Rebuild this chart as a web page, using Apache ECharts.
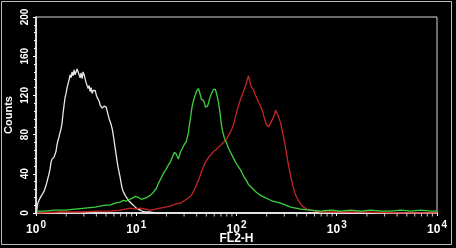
<!DOCTYPE html>
<html>
<head>
<meta charset="utf-8">
<script src="https://cdn.jsdelivr.net/npm/echarts@6/dist/echarts.min.js"></script>
<style>
html,body{margin:0;padding:0;background:#000;}
#chart{width:456px;height:248px;}
</style>
</head>
<body>
<div id="chart"></div>
<script>
// Each trace: [log10(FL2-H), counts]
const whiteTrace = [[0.005,0],[0.015,9],[0.02,10],[0.03,13],[0.04,12],[0.05,17],[0.06,19],[0.08,22],
[0.10,28],[0.11,32],[0.12,36],[0.13,40],[0.14,45],[0.15,52],[0.16,55],[0.17,54],[0.18,57],[0.19,58],
[0.20,63],[0.21,70],[0.22,74],[0.23,78],[0.24,82],[0.25,86],[0.26,92],[0.27,102],[0.28,110],[0.29,118],
[0.30,122],[0.31,128],[0.32,132],[0.33,136],[0.34,141],[0.35,138],[0.36,144],[0.37,140],[0.38,146],[0.39,141],
[0.40,143],[0.41,147],[0.42,148],[0.43,141],[0.44,138],[0.45,143],[0.46,137],[0.47,144],[0.48,141],[0.49,143],
[0.50,133],[0.51,130],[0.52,127],[0.53,130],[0.54,124],[0.55,128],[0.56,122],[0.57,125],[0.58,124],[0.59,125],
[0.60,121],[0.61,118],[0.62,120],[0.63,114],[0.64,110],[0.65,108],[0.66,107],[0.67,106],[0.68,109],[0.69,110],
[0.70,108],[0.71,104],[0.72,100],[0.73,96],[0.74,96],[0.75,90],[0.76,86],[0.77,80],[0.78,73],[0.79,66],
[0.80,59],[0.81,52],[0.82,46],[0.83,41],[0.84,36],[0.85,30],[0.86,25],[0.87,22],[0.88,20],[0.89,18],[0.90,16],
[0.92,13],[0.94,11],[0.96,9],[0.98,7],[1.00,5],[1.02,4],[1.04,3],[1.06,2],
[1.09,1],[1.14,1],[1.20,0],[1.40,0],[1.70,0],[2.0,0],[4.0,0]];

const greenTrace = [[0.01,2],[0.09,2],[0.19,3],[0.29,3],[0.39,4],[0.49,5],[0.59,6],[0.64,7],[0.69,8],[0.74,8],
[0.79,10],[0.84,11],[0.87,13],[0.90,12],[0.93,14],[0.96,15],[0.99,17],[1.02,16],[1.05,14],[1.08,15],[1.11,16],
[1.14,18],[1.17,21],[1.20,25],[1.22,30],[1.24,34],[1.26,38],[1.28,42],[1.30,45],[1.32,49],[1.34,52],[1.36,57],
[1.38,62],[1.40,60],[1.42,55],[1.44,62],[1.46,66],[1.48,70],[1.50,73],[1.52,82],[1.53,90],[1.54,96],[1.55,104],
[1.56,110],[1.57,114],[1.58,118],[1.59,121],[1.60,124],[1.61,126],[1.62,127],[1.63,124],[1.64,120],[1.65,116],
[1.66,117],[1.67,115],[1.68,112],[1.69,108],[1.70,106],[1.71,109],[1.72,112],[1.73,116],[1.74,119],[1.75,122],
[1.76,124],[1.77,126],[1.78,127],[1.79,126],[1.80,124],[1.81,118],[1.82,113],[1.83,106],[1.84,98],[1.85,90],
[1.86,84],[1.87,80],[1.88,76],[1.90,72],[1.92,66],[1.94,62],[1.96,58],[1.98,54],[2.00,50],[2.02,47],[2.04,44],
[2.06,40],[2.08,36],[2.10,33],[2.12,29],[2.14,27],[2.17,24],[2.20,21],[2.24,18],[2.28,16],[2.32,14],[2.36,12],
[2.40,11],[2.44,10],[2.49,8],[2.54,6],[2.59,5],[2.64,4],[2.74,3],[2.84,2],[2.94,3],[3.04,2],[3.14,3],[3.24,2],
[3.34,3],[3.44,2],[3.54,2],[3.64,3],[3.74,2],[3.84,3],[3.94,2],[4.0,2]];

const redTrace = [[0.01,0],[0.24,1],[0.44,1],[0.64,2],[0.74,2],[0.84,3],[0.89,4],[0.94,5],[0.99,4],[1.04,5],
[1.09,4],[1.14,3],[1.19,4],[1.24,5],[1.29,6],[1.34,7],[1.39,9],[1.44,10],[1.47,12],[1.50,14],[1.53,16],[1.55,18],
[1.57,22],[1.59,26],[1.61,31],[1.63,36],[1.65,42],[1.67,47],[1.69,52],[1.71,55],[1.73,58],[1.75,60],[1.77,63],
[1.79,64],[1.81,66],[1.83,68],[1.85,70],[1.87,72],[1.89,74],[1.91,77],[1.93,81],[1.95,85],[1.97,90],[1.99,98],
[2.01,106],[2.03,113],[2.05,119],[2.07,124],[2.09,130],[2.11,137],[2.12,140],[2.13,136],[2.14,131],[2.15,128],
[2.16,129],[2.17,126],[2.18,122],[2.20,118],[2.22,113],[2.24,109],[2.26,104],[2.28,96],[2.30,90],[2.32,88],
[2.34,92],[2.36,96],[2.38,101],[2.39,105],[2.40,103],[2.42,98],[2.43,95],[2.44,92],[2.45,87],[2.46,82],[2.48,72],
[2.50,60],[2.52,48],[2.54,38],[2.56,29],[2.58,21],[2.60,16],[2.62,12],[2.64,9],[2.67,6],[2.70,4],[2.74,3],
[2.79,2],[2.84,1],[2.94,1],[3.24,1],[3.64,0],[4.0,0]];

const xMinorTicks = [2,3,4,5,6,7,8,9,20,30,40,50,60,70,80,90,200,300,400,500,600,700,800,900,2000,3000,4000,5000,6000,7000,8000,9000];
const yTicks = [0,40,80,120,160,200];

const FONT = '"Liberation Sans", Arial, sans-serif';
const toData = tr => tr.map(p => [Math.pow(10, p[0]), p[1]]);

const chart = echarts.init(document.getElementById('chart'), null, {renderer:'canvas'});
chart.setOption({
  backgroundColor: '#000',
  animation: false,
  graphic: [{
    type: 'rect', silent: true,
    shape: {x: 1.5, y: 1.5, width: 450, height: 243},
    style: {fill: 'none', stroke: '#bdbdbd', lineWidth: 1}
  }],
  grid: {left: 36, top: 17, right: 19, bottom: 35, containLabel: false, outerBoundsMode: 'none',
         show: true, borderColor: '#d8d8d8', borderWidth: 1, backgroundColor: 'transparent'},
  xAxis: {
    type: 'log', logBase: 10, min: 1, max: 10000,
    name: 'FL2-H', nameLocation: 'middle', nameGap: 20, nameMoveOverlap: false,
    nameTextStyle: {color: '#fff', fontFamily: FONT, fontWeight: 'bold', fontSize: 12},
    axisLine: {show: true, lineStyle: {color: '#fff', width: 1.5}},
    axisTick: {show: true, length: 3, lineStyle: {color: '#fff'}},
    splitLine: {show: false},
    axisLabel: {
      margin: 4,
      formatter: v => '{b|10}{s|' + Math.round(Math.log10(v)) + '}',
      rich: {
        b: {color: '#fff', fontFamily: FONT, fontWeight: 'bold', fontSize: 12, padding: [7,0,0,0]},
        s: {color: '#fff', fontFamily: FONT, fontWeight: 'bold', fontSize: 10, padding: [0,0,3,1]}
      }
    }
  },
  yAxis: {
    type: 'value', min: 0, max: 200, interval: 40,
    name: 'Counts', nameLocation: 'middle', nameGap: 22, nameRotate: 90, nameMoveOverlap: false,
    nameTextStyle: {color: '#fff', fontFamily: FONT, fontWeight: 'bold', fontSize: 11},
    axisLine: {show: true, lineStyle: {color: '#fff', width: 1.5}},
    axisTick: {show: true, length: 3, lineStyle: {color: '#fff'}},
    minorTick: {show: true, splitNumber: 5, length: 2, lineStyle: {color: '#fff'}},
    splitLine: {show: false},
    axisLabel: {
      rotate: 90, margin: 6, color: '#fff', fontFamily: FONT, fontWeight: 'bold', fontSize: 10,
      formatter: v => yTicks.indexOf(v) >= 0 ? String(v) : ''
    }
  },
  series: [
    {type: 'line', name: 'white', data: toData(whiteTrace), showSymbol: false, symbol: 'none',
     lineStyle: {color: '#e8e8e8', width: 1.3}, z: 3},
    {type: 'line', name: 'red', data: toData(redTrace), showSymbol: false, symbol: 'none',
     lineStyle: {color: '#c42626', width: 1.3}, z: 3},
    {type: 'line', name: 'green', data: toData(greenTrace), showSymbol: false, symbol: 'none',
     lineStyle: {color: '#3cd03c', width: 1.3}, z: 4},
    {type: 'scatter', name: 'minorTicks', data: xMinorTicks.map(v => [v, 0]), symbol: 'rect',
     symbolSize: [1, 3], symbolOffset: [0, 2], clip: false, silent: true,
     itemStyle: {color: '#fff'}, z: 5}
  ]
});
</script>
</body>
</html>
